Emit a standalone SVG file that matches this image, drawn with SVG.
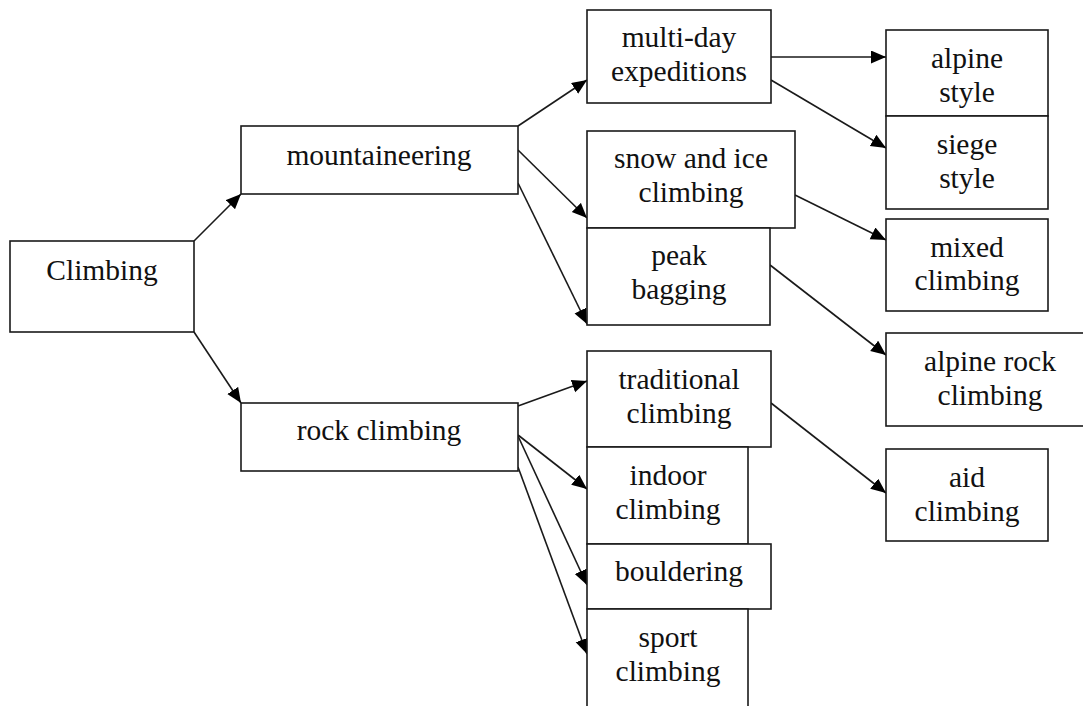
<svg xmlns="http://www.w3.org/2000/svg" width="1083" height="706" viewBox="0 0 1083 706">
<style>
.box{fill:#fff;stroke:#1a1a1a;stroke-width:1.6}
.t text{font-size:29.5px;fill:#111;text-anchor:middle}
.c line{stroke:#1a1a1a;stroke-width:1.6;marker-end:url(#ah)}
</style>
<defs>
<marker id="ah" markerUnits="userSpaceOnUse" markerWidth="16" markerHeight="14" refX="15" refY="6.5" orient="auto">
<path d="M0,0 L15,6.5 L0,13 z" fill="#000"/>
</marker>
</defs>
<rect width="1083" height="706" fill="#fff"/>
<g class="c" id="connectors">
<line x1="194" y1="241" x2="241" y2="194"/>
<line x1="194" y1="332" x2="241" y2="403"/>
<line x1="518" y1="126" x2="587" y2="80"/>
<line x1="518" y1="150" x2="587" y2="218"/>
<line x1="518" y1="183" x2="587" y2="324"/>
<line x1="771" y1="57" x2="886" y2="57"/>
<line x1="771" y1="80" x2="886" y2="148"/>
<line x1="795" y1="195" x2="886" y2="240"/>
<line x1="770" y1="265" x2="886" y2="355"/>
<line x1="518" y1="406" x2="587" y2="381"/>
<line x1="518" y1="435" x2="587" y2="489"/>
<line x1="518" y1="436" x2="587" y2="585"/>
<line x1="518" y1="467" x2="587" y2="654"/>
<line x1="771" y1="403" x2="886" y2="493"/>
</g>
<g class="t" font-family="Liberation Serif, DejaVu Serif, Noto Serif, serif">
<g id="climbing"><rect class="box" x="10" y="241" width="184" height="91"/><text x="102" y="280">Climbing</text></g>
<g id="mountaineering"><rect class="box" x="241" y="126" width="277" height="68"/><text x="379" y="165">mountaineering</text></g>
<g id="rock"><rect class="box" x="241" y="403" width="277" height="68"/><text x="379" y="440">rock climbing</text></g>
<g id="multiday"><rect class="box" x="587" y="10" width="184" height="93"/><text x="679" y="47">multi-day</text><text x="679" y="81">expeditions</text></g>
<g id="snowice"><rect class="box" x="587" y="131" width="208" height="97"/><text x="691" y="168">snow and ice</text><text x="691" y="202">climbing</text></g>
<g id="peak"><rect class="box" x="587" y="228" width="183" height="97"/><text x="679" y="265">peak</text><text x="679" y="299">bagging</text></g>
<g id="alpinestyle"><rect class="box" x="886" y="30" width="162" height="86"/><text x="967" y="68">alpine</text><text x="967" y="102">style</text></g>
<g id="siegestyle"><rect class="box" x="886" y="116" width="162" height="93"/><text x="967" y="154">siege</text><text x="967" y="188">style</text></g>
<g id="mixed"><rect class="box" x="886" y="219" width="162" height="92"/><text x="967" y="257">mixed</text><text x="967" y="290">climbing</text></g>
<g id="alpinerock"><rect class="box" x="886" y="333" width="200" height="93"/><text x="990" y="371">alpine rock</text><text x="990" y="405">climbing</text></g>
<g id="aid"><rect class="box" x="886" y="449" width="162" height="92"/><text x="967" y="487">aid</text><text x="967" y="521">climbing</text></g>
<g id="traditional"><rect class="box" x="587" y="351" width="184" height="96"/><text x="679" y="389">traditional</text><text x="679" y="423">climbing</text></g>
<g id="indoor"><rect class="box" x="587" y="447" width="161" height="97"/><text x="668" y="485">indoor</text><text x="668" y="519">climbing</text></g>
<g id="bouldering"><rect class="box" x="587" y="544" width="184" height="65"/><text x="679" y="581">bouldering</text></g>
<g id="sport"><rect class="box" x="587" y="609" width="161" height="110"/><text x="668" y="647">sport</text><text x="668" y="681">climbing</text></g>
</g>
</svg>
